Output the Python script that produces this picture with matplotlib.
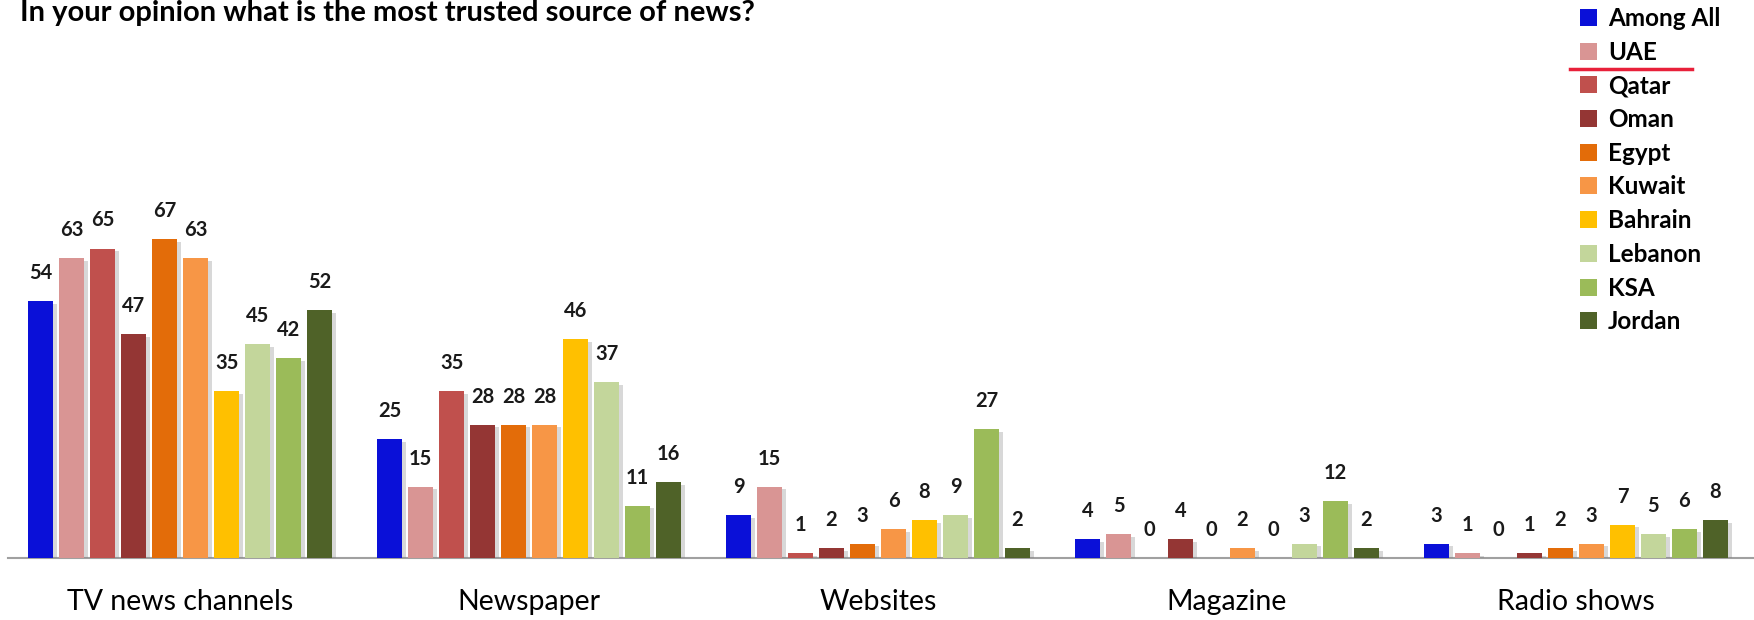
import numpy as np
import matplotlib.pyplot as plt
import matplotlib.patheffects as pe
from matplotlib.lines import Line2D
from matplotlib.patches import Patch

# survey results (%)
categories = ['TV news channels', 'Newspaper', 'Websites', 'Magazine', 'Radio shows']
countries = ['Among All', 'UAE', 'Qatar', 'Oman', 'Egypt', 'Kuwait', 'Bahrain', 'Lebanon', 'KSA', 'Jordan']
among_all = [54, 25, 9, 4, 3]
uae = [63, 15, 15, 5, 1]
qatar = [65, 35, 1, 0, 0]
oman = [47, 28, 2, 4, 1]
egypt = [67, 28, 3, 0, 2]
kuwait = [63, 28, 6, 2, 3]
bahrain = [35, 46, 8, 0, 7]
lebanon = [45, 37, 9, 3, 5]
ksa = [42, 11, 27, 12, 6]
jordan = [52, 16, 2, 2, 8]
colors = ['#0A10D8', '#D99594', '#C0504D', '#943634', '#E36C09',
          '#F79646', '#FFC000', '#C3D69B', '#9BBB59', '#4F6228']

series = [among_all, uae, qatar, oman, egypt, kuwait, bahrain, lebanon, ksa, jordan]

plt.rcParams['font.family'] = ['Lato', 'DejaVu Sans']

W, H = 1754, 620
fig = plt.figure(figsize=(W / 100, H / 100), dpi=100)
ax = fig.add_axes([8 / W, 62 / H, 1 - 8 / W, 518 / H])

x = np.arange(len(categories))
pitch = 0.0888
width = 0.0716
shadow = [pe.SimplePatchShadow(offset=(3, -2), shadow_rgbFace='#7f7f7f', alpha=0.3), pe.Normal()]

for k, (vals, col, name) in enumerate(zip(series, colors, countries)):
    pos = x + (k - 4.5) * pitch
    bars = ax.bar(pos, vals, width, color=col, label=name, zorder=3)
    for b in bars:
        b.set_path_effects(shadow)
    for px, v in zip(pos, vals):
        ax.annotate(str(v), (px, v), xytext=(0, 13), textcoords='offset points',
                    ha='center', va='bottom', fontsize=14.5, fontweight='bold', color='#1a1a1a')

ax.set_xlim(-0.493, 4.51)
ax.set_ylim(0, 108.8)
ax.set_xticks(x)
ax.set_xticklabels(categories, fontsize=20.5)
ax.tick_params(axis='x', length=0, pad=22)
ax.set_yticks([])
for s in ['top', 'right', 'left']:
    ax.spines[s].set_visible(False)
ax.spines['bottom'].set_color('#a0a0a0')
ax.spines['bottom'].set_linewidth(1.5)
ax.patch.set_alpha(0)

fig.text(20 / W, 1.0, 'In your opinion what is the most trusted source of news?',
         fontsize=21, fontweight='bold', ha='left', va='top')

# legend with flat swatches
handles = [Patch(facecolor=c, edgecolor='none') for c in colors]
fig.legend(handles=handles, labels=countries, loc='upper left',
           bbox_to_anchor=(1580 / W, 1 - 7 / H), frameon=False,
           prop={'weight': 'bold', 'size': 17.5}, handlelength=0.7, handleheight=0.7,
           handletextpad=0.45, labelspacing=0.44, borderaxespad=0, borderpad=0)

fig.add_artist(Line2D([1570 / W, 1692 / W], [1 - 69 / H, 1 - 69 / H],
                      color='#E8203A', linewidth=2.5, transform=fig.transFigure))

plt.savefig('out.png', dpi=100)
